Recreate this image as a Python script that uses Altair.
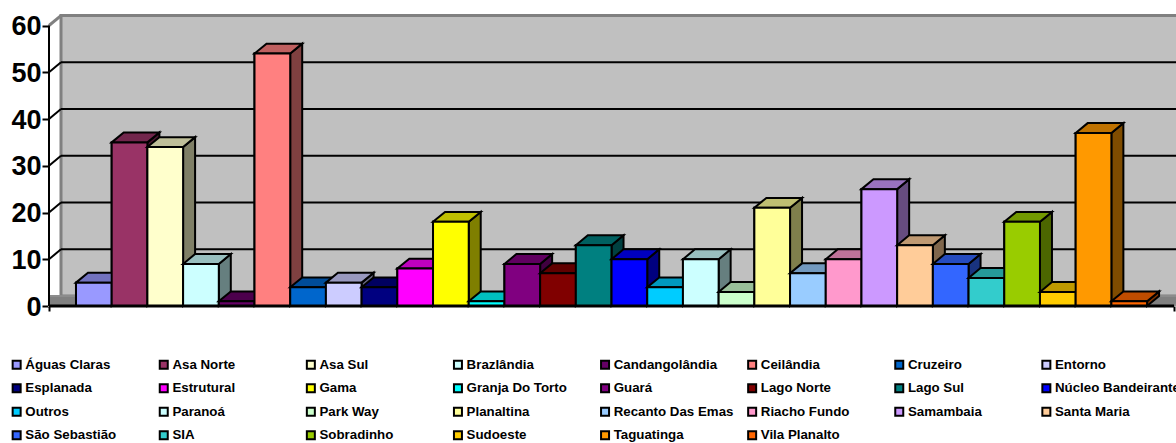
import altair as alt
import pandas as pd

categories = ["Águas Claras", "Asa Norte", "Asa Sul", "Brazlândia", "Candangolândia", "Ceilândia",
              "Cruzeiro", "Entorno", "Esplanada", "Estrutural", "Gama", "Granja Do Torto",
              "Guará", "Lago Norte", "Lago Sul", "Núcleo Bandeirante", "Outros", "Paranoá",
              "Park Way", "Planaltina", "Recanto Das Emas", "Riacho Fundo", "Samambaia", "Santa Maria",
              "São Sebastião", "SIA", "Sobradinho", "Sudoeste", "Taguatinga", "Vila Planalto"]
values = [5, 35, 34, 9, 1, 54, 4, 5, 4, 8, 18, 1, 9, 7, 13, 10, 4, 10, 3, 21, 7, 10, 25, 13, 9, 6, 18, 3, 37, 1]
colors = ["#9999FF", "#993366", "#FFFFCC", "#CCFFFF", "#660066", "#FF8080", "#0066CC", "#CCCCFF",
          "#000080", "#FF00FF", "#FFFF00", "#00FFFF", "#800080", "#800000", "#008080", "#0000FF",
          "#00CCFF", "#CCFFFF", "#CCFFCC", "#FFFF99", "#99CCFF", "#FF99CC", "#CC99FF", "#FFCC99",
          "#3366FF", "#33CCCC", "#99CC00", "#FFCC00", "#FF9900", "#FF6600"]
y_ticks = [0, 10, 20, 30, 40, 50, 60]

# Oblique projection: depth moves a point right (in bar widths) and up (in value units).
DEPTH_X = 0.336
DEPTH_Y = 2.12
X_START, X_END = -0.756, 30.756
X_DOMAIN = [X_START, 30.81]
Y_DOMAIN = [0, 62.46]
FONT = "Liberation Sans"


def shade(hex_color, factor):
    rgb = [int(hex_color[k:k + 2], 16) for k in (1, 3, 5)]
    return "#" + "".join(f"{int(c * factor):02X}" for c in rgb)


# Each face of a bar is one closed area; rows stay in painting order, left to right.
face_rows = []
for i, (name, v, col) in enumerate(zip(categories, values, colors)):
    x0, x1 = i, i + 1
    side = [(x1, v, 0), (x1 + DEPTH_X, v + DEPTH_Y, DEPTH_Y)]
    top = [(x0, v, v), (x0 + DEPTH_X, v + DEPTH_Y, v), (x1, v + DEPTH_Y, v), (x1 + DEPTH_X, v + DEPTH_Y, v + DEPTH_Y)]
    front = [(x0, v, 0), (x1, v, 0)]
    for label, pts, factor in (("a", side, 0.5), ("b", top, 0.75), ("c", front, 1.0)):
        for x, y, y2 in pts:
            face_rows.append({"face": f"{i:02d}{label}", "x": x, "y": y, "y2": y2, "hex": shade(col, factor)})
faces = pd.DataFrame(face_rows)

fronts = pd.DataFrame({"name": categories, "x": range(30), "x2": range(1, 31), "v": values})

x_scale = alt.Scale(domain=X_DOMAIN, nice=False, zero=False)
y_scale = alt.Scale(domain=Y_DOMAIN, nice=False, zero=False)
x_enc = alt.X("x:Q", scale=x_scale, title=None,
              axis=alt.Axis(values=[X_START, X_END], labels=False, grid=False, domain=False,
                            tickColor="black", tickWidth=2, tickSize=5))
y_enc = alt.Y("y:Q", scale=y_scale, title=None, stack=None,
              axis=alt.Axis(values=y_ticks, grid=False, domain=False, tickColor="black", tickWidth=2, tickSize=7,
                            labelFont=FONT, labelFontWeight="bold", labelFontSize=27, labelColor="black",
                            labelPadding=1, labelOffset=1, labelFlush=False, labelOverlap=False))

wall = alt.Chart(pd.DataFrame([{"x": X_START + DEPTH_X, "x2": X_END + 2, "y": 60 + DEPTH_Y, "y2": DEPTH_Y}])).mark_rect(
    fill="#C0C0C0", stroke="#808080", strokeWidth=3
).encode(x=x_enc, x2="x2:Q", y=y_enc, y2="y2:Q")

floor = alt.Chart(pd.DataFrame([
    {"x": X_START, "y": DEPTH_Y, "y2": 0},
    {"x": X_START + DEPTH_X, "y": DEPTH_Y, "y2": 0},
    {"x": X_END, "y": DEPTH_Y, "y2": 0},
    {"x": X_END + DEPTH_X, "y": DEPTH_Y, "y2": DEPTH_Y},
])).mark_area(fill="#808080", stroke="#8C8C8C", strokeWidth=2).encode(x=x_enc, y=y_enc, y2="y2:Q")

grid = alt.Chart(pd.DataFrame({"y": [t + DEPTH_Y for t in y_ticks[1:-1]]})).mark_rule(
    color="black", strokeWidth=2
).encode(x=alt.datum(X_START + DEPTH_X, scale=x_scale), x2=alt.datum(X_END + 2), y=y_enc)

stubs = alt.Chart(pd.DataFrame({"y": y_ticks[1:-1], "y2": [t + DEPTH_Y for t in y_ticks[1:-1]]})).mark_rule(
    color="black", strokeWidth=2
).encode(x=alt.datum(X_START, scale=x_scale), x2=alt.datum(X_START + DEPTH_X), y=y_enc, y2="y2:Q")

top_stub = alt.Chart(pd.DataFrame({"y": [60], "y2": [60 + DEPTH_Y]})).mark_rule(
    color="#808080", strokeWidth=3
).encode(x=alt.datum(X_START, scale=x_scale), x2=alt.datum(X_START + DEPTH_X), y=y_enc, y2="y2:Q")

legend_bars = alt.Chart(fronts).mark_rect(stroke="black", strokeWidth=2).encode(
    x=x_enc, x2="x2:Q", y=alt.Y("v:Q", scale=y_scale, title=None), y2=alt.datum(0),
    color=alt.Color("name:N", scale=alt.Scale(domain=categories, range=colors), sort=None,
                    legend=alt.Legend(
                        orient="none", legendX=-49 + 10, legendY=344, columns=8, direction="horizontal",
                        title=None, symbolType="square", symbolSize=64, symbolStrokeColor="black",
                        symbolStrokeWidth=2, symbolOpacity=1, gridAlign="all", columnPadding=4.1, rowPadding=6.5,
                        labelFont=FONT, labelFontWeight="bold", labelFontSize=13.3, labelColor="black",
                        labelLimit=200, labelOffset=2, symbolOffset=0, padding=0)),
)

bar_faces = alt.Chart(faces).mark_area(stroke="black", strokeWidth=2, strokeJoin="miter").encode(
    x=x_enc, y=y_enc, y2="y2:Q",
    detail="face:N",
    fill=alt.Fill("hex:N", scale=None, legend=None),
)

y_line = alt.Chart(pd.DataFrame({"y": [0], "y2": [60]})).mark_rule(color="black", strokeWidth=2).encode(
    x=alt.datum(X_START, scale=x_scale), y=y_enc, y2="y2:Q"
)
x_line = alt.Chart(pd.DataFrame({"y": [0]})).mark_rule(color="black", strokeWidth=3).encode(
    x=alt.datum(X_START, scale=x_scale), x2=alt.datum(X_END), y=y_enc
)

chart = alt.layer(wall, floor, grid, stubs, top_stub, legend_bars, bar_faces, y_line, x_line).properties(
    width=1127, height=292,
    autosize=alt.AutoSizeParams(type="none"),
    padding={"left": 49, "top": 14, "right": 0, "bottom": 137},
    background="white",
).configure_view(stroke=None)

chart.save("out.html", embed_options={"renderer": "svg", "actions": False})
